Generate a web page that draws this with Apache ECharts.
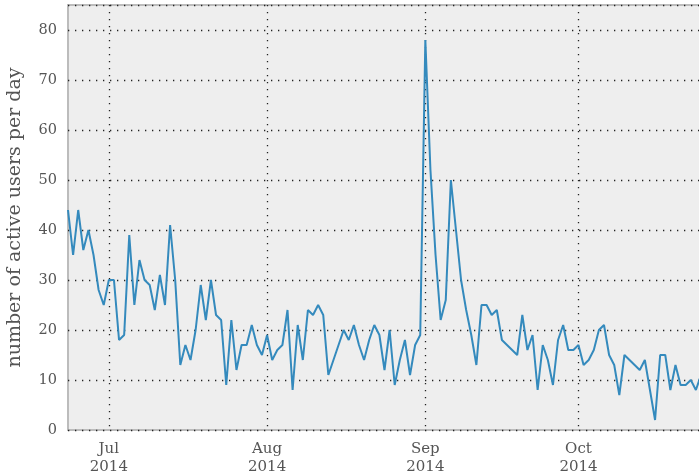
<!DOCTYPE html>
<html>
<head>
<meta charset="utf-8">
<script src="https://cdn.jsdelivr.net/npm/echarts@6/dist/echarts.min.js"></script>
<style>
  html, body { margin: 0; padding: 0; background: #ffffff; }
  #chart { width: 699px; height: 475px; }
</style>
</head>
<body>
<div id="chart"></div>
<script>
// Daily active users, 23 Jun 2014 - 25 Oct 2014
const firstDay = [2014, 5, 23];           // year, month index, day
const lastDay = [2014, 9, 25];
const june = [44, 35, 44, 36, 40, 35, 28, 25];
const july = [30, 30, 18, 19, 39, 25, 34, 30, 29, 24, 31, 25, 41, 30, 13, 17, 14, 20, 29, 22,
              30, 23, 22, 9, 22, 12, 17, 17, 21, 17, 15];
const august = [19, 14, 16, 17, 24, 8, 21, 14, 24, 23, 25, 23, 11, 14, 17, 20, 18, 21, 17, 14,
                18, 21, 19, 12, 20, 9, 14, 18, 11, 17, 19];
const september = [78, 52, 35, 22, 26, 50, 40, 30, 24, 19, 13, 25, 25, 23, 24, 18, 17, 16, 15, 23,
                   16, 19, 8, 17, 14, 9, 18, 21, 16, 16];
const october = [17, 13, 14, 16, 20, 21, 15, 13, 7, 15, 14, 13, 12, 14, 8, 2, 15, 15, 8, 13,
                 9, 9, 10, 8, 11];
const monthTicks = [[2014, 6, 1], [2014, 7, 1], [2014, 8, 1], [2014, 9, 1]];
const monthNames = ['Jan', 'Feb', 'Mar', 'Apr', 'May', 'Jun', 'Jul', 'Aug', 'Sep', 'Oct', 'Nov', 'Dec'];

const DAY = 86400000;
const utc = (d) => Date.UTC(d[0], d[1], d[2]);
const values = [].concat(june, july, august, september, october);
const start = utc(firstDay);
const points = values.map((v, i) => [start + i * DAY, v]);
const tickTimes = monthTicks.map(utc);

const font = 'DejaVu Serif';
const textColor = '#555555';
const gridDots = { color: '#222222', width: 1.3, type: [1.3, 5.7] };

const chart = echarts.init(document.getElementById('chart'), null, { renderer: 'canvas' });
chart.setOption({
  animation: false,
  backgroundColor: '#ffffff',
  grid: {
    left: 68, right: -2, top: 5, bottom: 45,
    outerBoundsMode: 'none',
    containLabel: false,
    show: true,
    backgroundColor: '#eeeeee',
    borderColor: '#bcbcbc',
    borderWidth: 2
  },
  xAxis: {
    type: 'value',
    min: start,
    max: utc(lastDay),
    axisLine: { show: false },
    axisTick: { show: false, customValues: tickTimes },
    axisLabel: {
      customValues: tickTimes,
      margin: 10,
      fontFamily: font,
      fontSize: 15,
      lineHeight: 18,
      color: textColor,
      formatter: (v) => {
        const d = new Date(v);
        return monthNames[d.getUTCMonth()] + '\n' + d.getUTCFullYear();
      }
    },
    splitLine: { show: true, lineStyle: gridDots }
  },
  yAxis: {
    type: 'value',
    min: 0,
    max: 85,
    interval: 10,
    name: 'number of active users per day',
    nameLocation: 'middle',
    nameGap: 43,
    nameTextStyle: { fontFamily: font, fontSize: 19, color: textColor },
    axisLine: { show: false },
    axisTick: { show: false },
    axisLabel: {
      showMaxLabel: false,
      margin: 11,
      fontFamily: font,
      fontSize: 14.5,
      color: textColor
    },
    splitLine: { show: true, lineStyle: gridDots }
  },
  series: [{
    type: 'line',
    data: points,
    showSymbol: false,
    symbol: 'none',
    lineStyle: { color: '#348ABD', width: 2 },
    clip: true
  }]
});
</script>
</body>
</html>
